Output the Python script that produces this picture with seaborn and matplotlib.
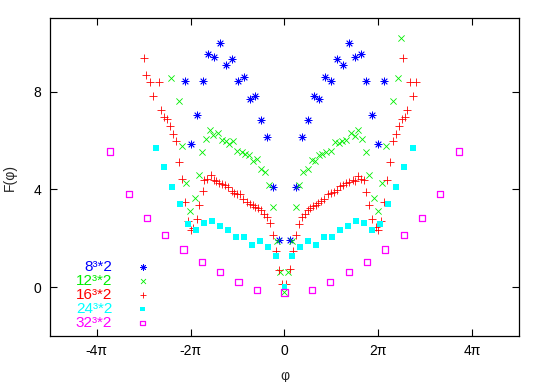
import numpy as np
import pandas as pd
import matplotlib
matplotlib.use("Agg")
import matplotlib.pyplot as plt
import seaborn as sns

# --- data (phi in radians, F(phi)) ---
phi_8 = [-6.64, -6.25, -5.86, -5.46, -5.09, -4.69, -4.30, -3.91, -3.52, -3.13, -2.74,
         -2.34, -1.95, -1.56, -1.17, -0.79, -0.39,
         0.39, 0.79, 1.17, 1.56, 1.95, 2.34, 2.74, 3.13, 3.52, 3.91, 4.30, 4.69, 5.09,
         5.46, 5.86, 6.25, 6.64]
F_8 = [8.45, 5.84, 7.05, 8.42, 9.54, 9.43, 9.99, 9.09, 9.32, 8.44, 8.60,
       7.70, 7.84, 6.82, 6.15, 4.08, 1.92,
       1.92, 4.08, 6.15, 6.82, 7.84, 7.70, 8.60, 8.44, 9.32, 9.09, 9.99, 9.43, 9.54,
       8.42, 7.05, 5.84, 8.45]

phi_12 = [-7.58, -7.07, -6.84, -6.58, -6.31, -6.00, -5.75, -5.51, -5.26, -5.01, -4.77,
          -4.46, -4.17, -3.94, -3.70, -3.46, -3.21, -2.87, -2.61, -2.39, -2.10, -1.87,
          -1.54, -1.32, -1.05, -0.80, -0.51, -0.31, 0.0,
          0.24, 0.49, 0.76, 0.96, 1.25, 1.58, 1.82, 2.05, 2.29, 2.54, 2.78, 3.12, 3.38,
          3.63, 3.85, 4.12, 4.48, 4.70, 4.95, 5.19, 5.43, 5.66, 6.02, 6.26, 6.53, 6.77,
          7.24, 7.57, 7.82]
F_12 = [8.56, 7.60, 5.77, 4.27, 3.13, 3.63, 4.58, 5.52, 6.05, 6.44, 6.23,
        6.30, 6.03, 5.96, 5.87, 5.96, 5.59, 5.52, 5.43, 5.39, 5.18, 5.25,
        4.82, 4.71, 4.19, 3.27, 1.88, 0.62, -0.20,
        0.62, 1.88, 3.27, 4.19, 4.72, 4.82, 5.22, 5.16, 5.39, 5.43, 5.51, 5.59, 5.95,
        5.89, 5.97, 6.03, 6.30, 6.20, 6.44, 6.07, 5.52, 4.57, 3.63, 3.13, 4.27, 5.78,
        7.62, 8.56, 10.18]

phi_16 = [-9.40, -9.27, -9.00, -8.82, -8.42, -8.25, -8.05, -7.87, -7.65, -7.45, -7.27,
          -7.07, -6.84, -6.66, -6.46, -6.26, -6.11, -5.88, -5.71, -5.48, -5.39, -5.21,
          -4.95, -4.73, -4.55, -4.37, -4.17, -3.97, -3.79, -3.54, -3.39, -3.21, -2.99,
          -2.77, -2.54, -2.32, -2.14, -1.97, -1.76, -1.56, -1.38, -1.20, -0.98, -0.76,
          -0.58, -0.40, -0.20,
          0.13, 0.38, 0.58, 0.78, 0.98, 1.18, 1.36, 1.56, 1.74, 1.91, 2.09, 2.27, 2.45,
          2.63, 2.94, 3.12, 3.30, 3.48, 3.70, 3.92, 4.14, 4.34, 4.57, 4.70, 4.95, 5.12,
          5.30, 5.48, 5.68, 5.86, 6.10, 6.28, 6.48, 6.64, 6.86, 7.07, 7.26, 7.45, 7.66,
          7.86, 7.95, 8.04, 8.22, 8.42, 8.62, 8.80]
F_16 = [9.36, 8.68, 8.38, 7.82, 8.38, 7.24, 6.95, 6.87, 6.58, 6.27, 5.96,
        5.13, 4.41, 3.48, 2.71, 2.33, 2.40, 2.80, 3.38, 3.92, 4.40, 4.44,
        4.57, 4.37, 4.33, 4.27, 4.23, 4.16, 4.09, 3.93, 3.87, 3.82, 3.80,
        3.59, 3.48, 3.42, 3.35, 3.28, 3.24, 3.14, 3.01, 2.87, 2.62, 2.15,
        1.47, 0.72, 0.12,
        0.12, 0.73, 1.47, 2.15, 2.60, 2.87, 3.01, 3.14, 3.25, 3.32, 3.38, 3.44, 3.51,
        3.59, 3.80, 3.85, 3.89, 3.96, 4.12, 4.16, 4.27, 4.30, 4.37, 4.33, 4.54, 4.44,
        4.40, 3.89, 3.38, 2.80, 2.44, 2.33, 2.69, 3.48, 4.40, 5.12, 5.97, 6.27, 6.58,
        6.87, 9.36, 6.96, 7.24, 8.38, 7.82, 8.38]

phi_24 = [-8.60, -8.04, -7.50, -6.97, -6.46, -5.92, -5.36, -4.83, -4.29, -3.76, -3.22,
          -2.69, -2.15, -1.62, -1.08, -0.55, 0.0,
          0.52, 1.06, 1.59, 2.13, 2.66, 3.20, 3.73, 4.27, 4.80, 5.34, 5.87, 6.39, 6.95,
          7.49, 8.02, 8.58]
F_24 = [5.70, 4.90, 4.08, 3.39, 2.57, 2.35, 2.61, 2.69, 2.51, 2.35, 2.06,
        2.06, 1.74, 1.90, 1.66, 1.28, -0.01,
        1.28, 1.66, 1.90, 1.74, 2.06, 2.06, 2.35, 2.51, 2.69, 2.61, 2.35, 2.57, 3.39,
        4.08, 4.90, 5.70]

phi_32 = [-11.67, -10.42, -9.20, -7.99, -6.75, -5.54, -4.31, -3.07, -1.84, 0.0,
          1.84, 3.04, 4.29, 5.50, 6.72, 7.97, 9.20, 10.40, 11.65]
F_32 = [5.55, 3.80, 2.82, 2.14, 1.54, 1.02, 0.61, 0.20, -0.11, -0.22,
        -0.11, 0.20, 0.61, 1.02, 1.54, 2.14, 2.82, 3.80, 5.55]

labels = ["8\u00b3*2", "12\u00b3*2", "16\u00b3*2", "24\u00b3*2", "32\u00b3*2"]
colors = ["#0000ff", "#00ee00", "#ff0000", "#00ffff", "#ff00ff"]
xtick_labels = ["-4\u03c0", "-2\u03c0", "0", "2\u03c0", "4\u03c0"]

# --- plot ---
sns.set_theme(style="ticks")
plt.rcParams["font.family"] = ["Liberation Sans", "DejaVu Sans"]

fig = plt.figure(figsize=(5.45, 3.82), dpi=100)
ax = fig.add_axes([0.0912, 0.1204, 0.8616, 0.8317])

series = [
    (phi_8, F_8, dict(marker=(8, 2, 0), s=26, linewidth=0.6)),
    (phi_12, F_12, dict(marker="x", s=20, linewidth=0.6)),
    (phi_16, F_16, dict(marker="+", s=26, linewidth=0.6)),
    (phi_24, F_24, dict(marker="s", s=18, linewidth=0, edgecolor="none")),
    (phi_32, F_32, dict(marker="s", s=20, linewidth=0.9, facecolor="none")),
]

for (xs, ys, kw), lab, col in zip(series, labels, colors):
    df = pd.DataFrame({"phi": xs, "F": ys})
    if kw.get("facecolor") == "none":
        kw = dict(kw, edgecolor=col)
    sns.scatterplot(data=df, x="phi", y="F", ax=ax, label=lab, color=col, **kw)

ax.set_xlim(-5 * np.pi, 5 * np.pi)
ax.set_ylim(-2, 11)
ax.set_xticks([-4 * np.pi, -2 * np.pi, 0, 2 * np.pi, 4 * np.pi])
ax.set_xticklabels(xtick_labels)
ax.set_yticks([0, 4, 8])
ax.tick_params(direction="in", top=True, right=True, length=5, width=0.8,
               labelsize=10, colors="black", pad=6)
for sp in ax.spines.values():
    sp.set_visible(True)
    sp.set_color("black")
    sp.set_linewidth(0.9)

ax.set_xlabel("\u03c6", fontsize=10, labelpad=8)
ax.set_ylabel("F(\u03c6)", fontsize=10, labelpad=12)

leg = ax.legend(loc="lower left", bbox_to_anchor=(0.036, -0.01), frameon=False,
                markerfirst=False, fontsize=11, handlelength=2.0,
                handletextpad=1.0, labelspacing=0.0, borderaxespad=0.2,
                scatterpoints=1, markerscale=0.8)
for t, c in zip(leg.get_texts(), colors):
    t.set_color(c)

plt.savefig("out.png", dpi=100)
